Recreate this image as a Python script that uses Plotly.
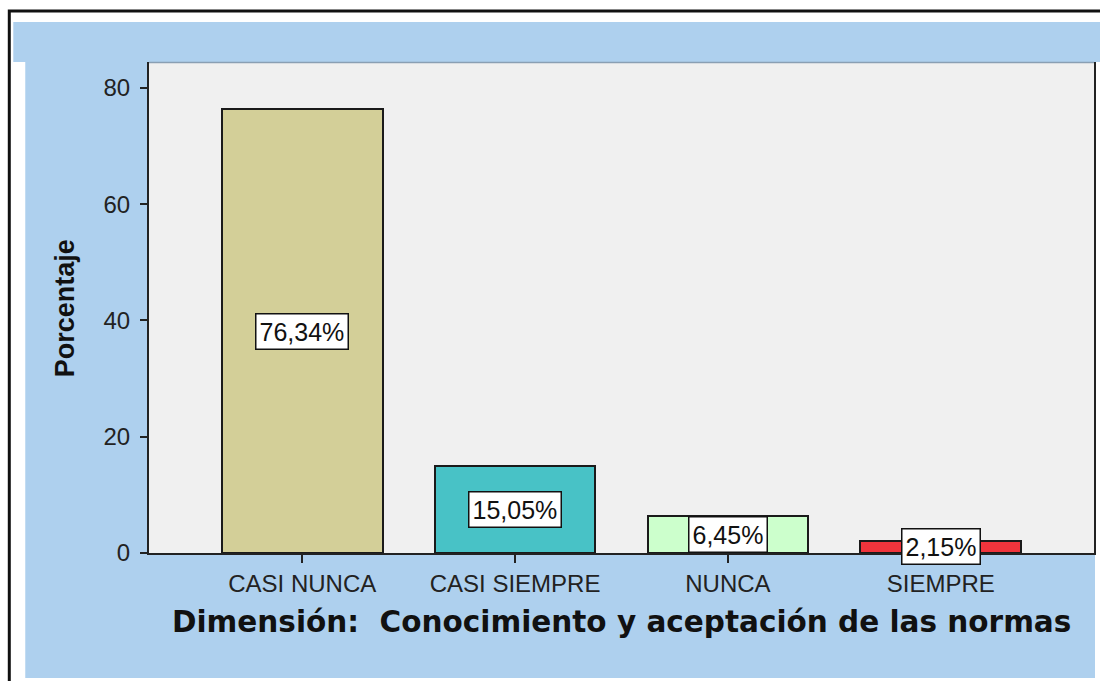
import plotly.graph_objects as go

categories = ["CASI NUNCA", "CASI SIEMPRE", "NUNCA", "SIEMPRE"]
values = [76.34, 15.05, 6.45, 2.15]
labels = ["76,34%", "15,05%", "6,45%", "2,15%"]
colors = ["#d3cf98", "#48c2c6", "#ccffcc", "#ef343c"]
y_ticks = [0, 20, 40, 60, 80]

W, H = 1100, 681
L, R, T, B = 149, 1096, 62, 553  # plot area in px


def px(x):
    return (x - L) / (R - L)


def py(y):
    return (B - y) / (B - T)


BLUE = "#aed0ee"

fig = go.Figure()
fig.add_trace(go.Bar(
    x=categories, y=values, width=0.755,
    marker=dict(color=colors, line=dict(color="#1a1a1a", width=2)),
    hoverinfo="skip", showlegend=False,
))

for c, v, t in zip(categories, values, labels):
    fig.add_annotation(
        x=c, y=v / 2, xref="x", yref="y", text=t, showarrow=False,
        font=dict(family="Liberation Sans, Arial, sans-serif", size=25, color="#111"),
        bgcolor="white", bordercolor="#111", borderwidth=1.5, borderpad=3,
        xanchor="center", yanchor="middle",
    )

fig.add_annotation(
    x=px(65), y=py(308), xref="paper", yref="paper", text="<b>Porcentaje</b>",
    textangle=-90, showarrow=False, xanchor="center", yanchor="middle",
    font=dict(family="Liberation Sans, Arial, sans-serif", size=27, color="#111"),
)
fig.add_annotation(
    x=px(623), y=py(622), xref="paper", yref="paper",
    text="<b>Dimensión:\u00a0 Conocimiento y aceptación de las normas</b>",
    showarrow=False, xanchor="center", yanchor="middle",
    font=dict(family="DejaVu Sans, Verdana, sans-serif", size=29.5, color="#111"),
)

shapes = [
    dict(type="rect", xref="paper", yref="paper", x0=px(13), x1=px(1110), y0=py(62), y1=py(22),
         fillcolor=BLUE, line=dict(width=0), layer="below"),
    dict(type="rect", xref="paper", yref="paper", x0=px(25), x1=px(149), y0=py(678), y1=py(62),
         fillcolor=BLUE, line=dict(width=0), layer="below"),
    dict(type="rect", xref="paper", yref="paper", x0=px(149), x1=px(1097), y0=py(678), y1=py(553),
         fillcolor=BLUE, line=dict(width=0), layer="below"),
    dict(type="line", xref="paper", yref="paper", x0=px(149), x1=px(1096), y0=py(62.5), y1=py(62.5),
         line=dict(color="#8a9fb3", width=1.5), layer="above"),
    dict(type="rect", xref="paper", yref="paper", x0=px(9), x1=px(1120), y0=py(700), y1=py(11),
         fillcolor="rgba(0,0,0,0)", line=dict(color="#111", width=3), layer="above"),
]

fig.update_layout(
    width=W, height=H,
    margin=dict(l=L, r=W - R, t=T, b=H - B, pad=0),
    paper_bgcolor="white", plot_bgcolor="#f0f0f0",
    shapes=shapes, bargap=0,
    font=dict(family="Liberation Sans, Arial, sans-serif", color="#222"),
)
fig.update_xaxes(
    type="category", range=[-0.72, 3.72], showline=True, linecolor="#222", linewidth=2,
    ticks="outside", ticklen=8, tickwidth=2, tickcolor="#222",
    tickfont=dict(size=24, color="#222"), showgrid=False, zeroline=False, fixedrange=True,
)
fig.update_yaxes(
    range=[0, 84.47], tickvals=y_ticks, showline=True, mirror=True, linecolor="#222", linewidth=2,
    ticks="outside", ticklen=7, tickwidth=2, tickcolor="#222",
    tickfont=dict(size=24, color="#222"), showgrid=False, zeroline=False, fixedrange=True,
    ticklabelstandoff=5,
)

fig.write_html(
    "out.html",
    config={"displayModeBar": False},
    post_script="document.body.style.margin='0px';document.body.style.overflow='hidden';",
)
